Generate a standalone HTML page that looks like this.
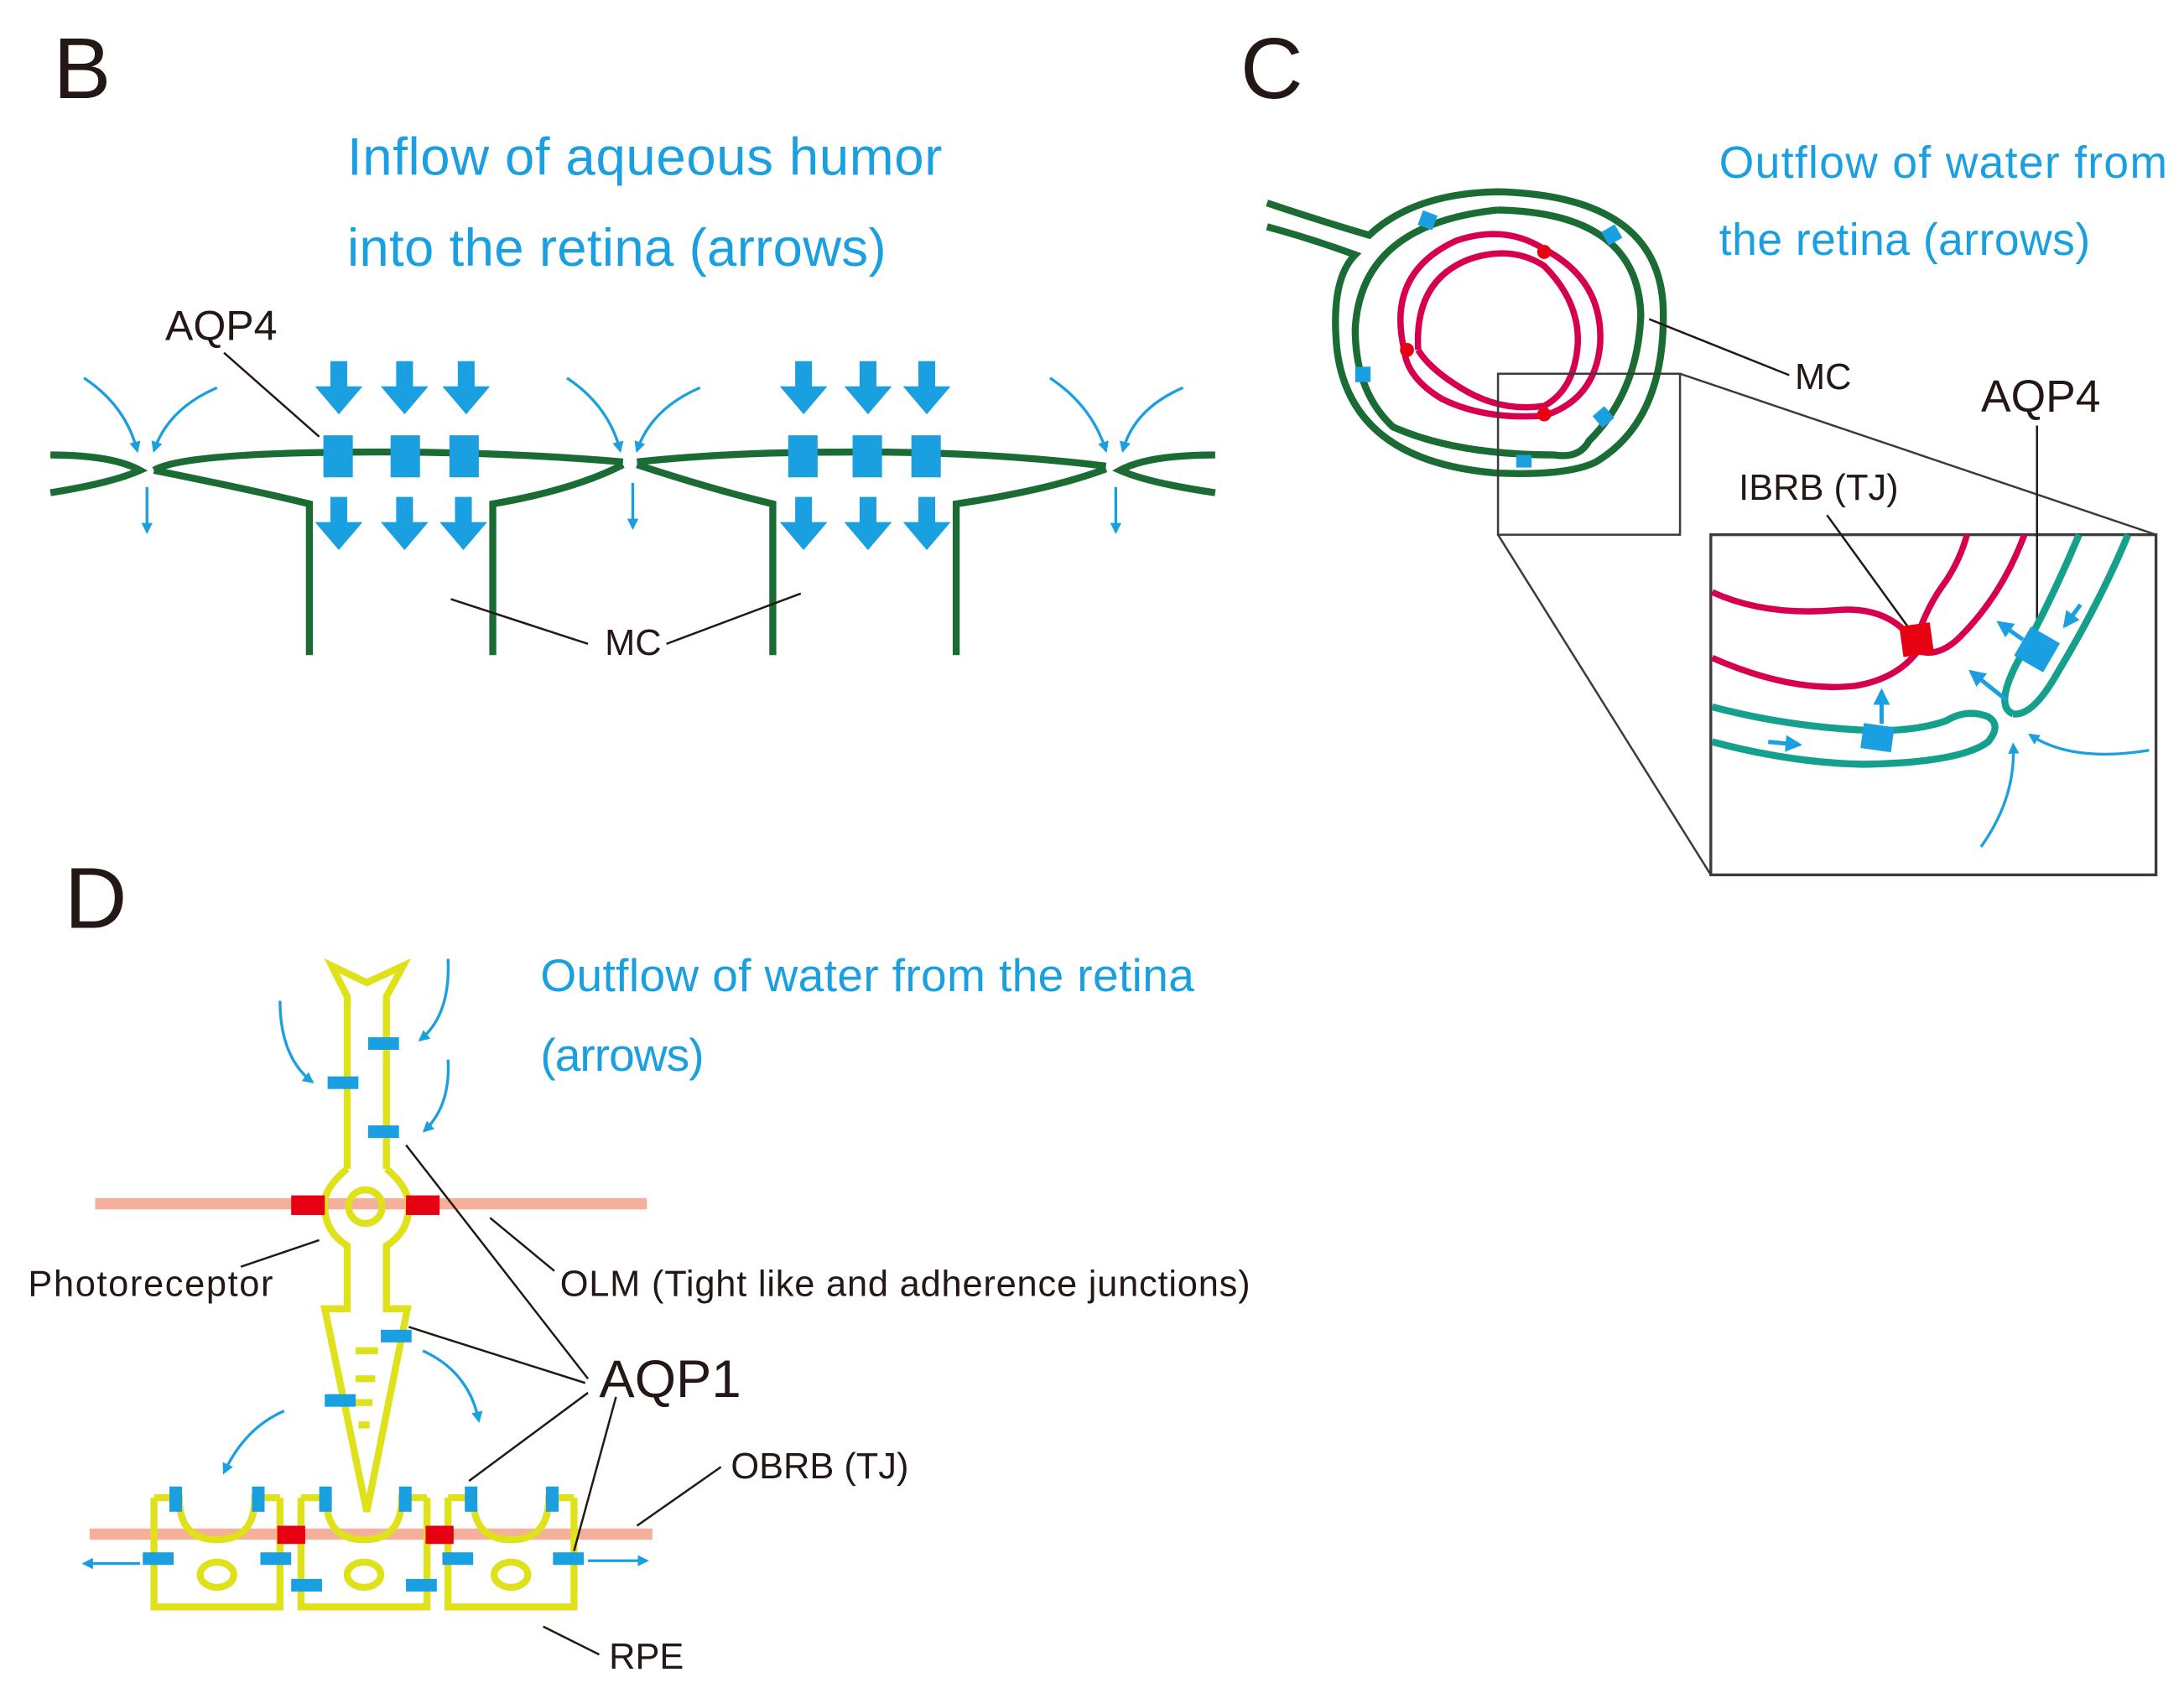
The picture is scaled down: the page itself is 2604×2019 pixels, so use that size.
<!DOCTYPE html>
<html><head><meta charset="utf-8"><style>html,body{margin:0;padding:0;background:#fff}svg{display:block}</style></head>
<body>
<svg width="2604" height="2019" viewBox="0 0 1560 1209.5" preserveAspectRatio="none" xmlns="http://www.w3.org/2000/svg" font-family="Liberation Sans, sans-serif">
<defs>
<marker id="ah" viewBox="0 0 10 10" refX="8" refY="5" markerWidth="4" markerHeight="4" orient="auto"><path d="M0,0 L10,5 L0,10 z" fill="#1a9fe0"/></marker>
<g id="bigdown"><rect x="-6" y="0" width="12" height="20" fill="#1a9fe0"/><path d="M-17,18 L17,18 L0,38 z" fill="#1a9fe0"/></g>
</defs>
<rect width="1560" height="1210" fill="#fff"/>
<!-- Panel B -->
<text x="38" y="70" font-size="62" fill="#231815">B</text>
<text x="248" y="125" font-size="38" fill="#1a9fe0" textLength="425">Inflow of aqueous humor</text>
<text x="248" y="190" font-size="38" fill="#1a9fe0" textLength="385">into the retina (arrows)</text>
<text x="118" y="243" font-size="30" fill="#231815">AQP4</text>
<line x1="160" y1="252" x2="228" y2="312" stroke="#231815" stroke-width="1.5"/>
<g fill="none" stroke="#1b6b35" stroke-width="5">
<path d="M36,325 Q80,325 100,336 Q80,345 36,352"/>
<path d="M110,336 Q130,324 250,323 Q350,322 445,330"/>
<path d="M110,336 Q180,350 221,360 V468"/>
<path d="M352,468 V360 Q410,350 445,332"/>
<path d="M455,330 Q520,323 600,323 Q700,322 790,333"/>
<path d="M455,332 Q510,350 552,360 V468"/>
<path d="M683,468 V360 Q750,350 790,335"/>
<path d="M868,325 Q820,325 800,336 Q820,345 868,352"/>
</g>
<g fill="#1a9fe0">
<rect x="231" y="311" width="21" height="30"/><rect x="279" y="311" width="21" height="30"/><rect x="321" y="311" width="21" height="30"/>
<rect x="563" y="311" width="21" height="30"/><rect x="609" y="311" width="21" height="30"/><rect x="651" y="311" width="21" height="30"/>
</g>
<use href="#bigdown" x="242" y="258"/><use href="#bigdown" x="289" y="258"/><use href="#bigdown" x="333" y="258"/>
<use href="#bigdown" x="574" y="258"/><use href="#bigdown" x="620" y="258"/><use href="#bigdown" x="662" y="258"/>
<use href="#bigdown" x="242" y="355"/><use href="#bigdown" x="289" y="355"/><use href="#bigdown" x="331" y="355"/>
<use href="#bigdown" x="574" y="355"/><use href="#bigdown" x="620" y="355"/><use href="#bigdown" x="662" y="355"/>
<g fill="none" stroke="#1a9fe0" stroke-width="2" marker-end="url(#ah)">
<path d="M60,270 Q90,290 98,322"/><path d="M155,277 Q120,292 110,322"/><path d="M105,348 V380"/>
<path d="M405,270 Q435,290 443,322"/><path d="M500,277 Q465,292 455,322"/><path d="M452,345 V377"/>
<path d="M750,270 Q780,290 790,322"/><path d="M845,277 Q810,292 802,322"/><path d="M797,348 V380"/>
</g>
<text x="432" y="468" font-size="26" fill="#231815">MC</text>
<line x1="322" y1="428" x2="420" y2="460" stroke="#231815" stroke-width="1.5"/>
<line x1="476" y1="460" x2="572" y2="424" stroke="#231815" stroke-width="1.5"/>

<!-- Panel C -->
<text x="886" y="70" font-size="62" fill="#231815">C</text>
<text x="1228" y="127" font-size="32" fill="#1a9fe0" textLength="320">Outflow of water from</text>
<text x="1228" y="182" font-size="32" fill="#1a9fe0" textLength="265">the retina (arrows)</text>
<g fill="none" stroke="#1b6b35" stroke-width="5">
<path d="M905,145 Q950,160 978,168 Q1010,138 1070,137 Q1185,140 1188,220 Q1190,300 1140,330 Q1120,340 1070,338 Q965,330 955,250 Q950,200 968,182 Q935,170 905,162"/>
<path d="M1070,150 Q1170,152 1172,225 Q1170,280 1135,315 Q1128,328 1110,325 Q1040,325 995,305 Q968,280 968,235 Q972,160 1070,150"/>
</g>
<g fill="none" stroke="#d6004f" stroke-width="4.5">
<path d="M1003,250 Q990,195 1040,172 Q1075,160 1103,178 Q1145,200 1143,245 Q1140,285 1103,297 Q1060,300 1030,285 Q1005,270 1003,250"/>
<path d="M1013,250 Q1010,200 1050,185 Q1080,175 1103,190 Q1128,215 1127,245 Q1125,278 1103,290 Q1070,295 1040,275 Q1020,262 1013,250"/>
</g>
<circle cx="1103" cy="180" r="5" fill="#e60012"/><circle cx="1005" cy="250" r="5" fill="#e60012"/><circle cx="1103" cy="296" r="5" fill="#e60012"/>
<g fill="#1a9fe0">
<rect x="1014" y="152" width="11" height="11" transform="rotate(20 1020 158)"/>
<rect x="1146" y="162" width="11" height="11" transform="rotate(-30 1152 168)"/>
<rect x="968" y="262" width="11" height="11"/>
<rect x="1140" y="292" width="11" height="11" transform="rotate(-40 1146 298)"/>
<rect x="1083" y="325" width="11" height="9"/>
</g>
<line x1="1178" y1="228" x2="1278" y2="268" stroke="#231815" stroke-width="1.5"/>
<text x="1282" y="278" font-size="26" fill="#231815">MC</text>
<rect x="1070" y="267" width="130" height="115" fill="none" stroke="#3e3a39" stroke-width="1.5"/>
<line x1="1200" y1="267" x2="1540" y2="382" stroke="#3e3a39" stroke-width="1.5"/>
<line x1="1070" y1="382" x2="1222" y2="625" stroke="#3e3a39" stroke-width="1.5"/>
<rect x="1222" y="382" width="318" height="243" fill="none" stroke="#3e3a39" stroke-width="2"/>
<text x="1415" y="294" font-size="32" fill="#231815">AQP4</text>
<line x1="1455" y1="304" x2="1455" y2="462" stroke="#231815" stroke-width="1.5"/>
<text x="1242" y="357" font-size="26" fill="#231815">IBRB (TJ)</text>
<line x1="1305" y1="368" x2="1368" y2="455" stroke="#231815" stroke-width="1.5"/>
<g fill="none" stroke="#d6004f" stroke-width="4.5">
<path d="M1223,423 Q1260,440 1310,436 Q1350,432 1368,460 Q1375,435 1390,415 Q1400,400 1405,382"/>
<path d="M1223,470 Q1280,495 1325,490 Q1355,485 1370,465 Q1385,470 1400,455 Q1430,425 1446,382"/>
</g>
<rect x="1358" y="446" width="22" height="22" fill="#e60012" transform="rotate(-8 1369 457)"/>
<g fill="none" stroke="#14a08c" stroke-width="5">
<path d="M1223,530 Q1280,545 1330,546 Q1400,545 1420,530 Q1430,518 1420,512 Q1405,506 1390,515 Q1370,522 1340,522 Q1280,520 1223,505"/>
<path d="M1438,510 Q1425,505 1440,475 Q1465,430 1485,382"/>
<path d="M1438,510 Q1452,512 1470,480 Q1500,430 1520,382"/>
</g>
<rect x="1330" y="518" width="22" height="18" fill="#1a9fe0" transform="rotate(8 1341 527)"/>
<rect x="1443" y="452" width="24" height="24" fill="#1a9fe0" transform="rotate(30 1455 464)"/>
<g fill="none" stroke="#1a9fe0" stroke-width="3" marker-end="url(#ah)">
<path d="M1263,530 L1285,532"/><path d="M1344,517 V494"/><path d="M1445,457 L1428,445"/><path d="M1486,432 L1475,447"/><path d="M1433,500 L1408,480"/>
</g>
<g fill="none" stroke="#1a9fe0" stroke-width="2" marker-end="url(#ah)">
<path d="M1415,605 Q1440,570 1438,532"/><path d="M1535,536 Q1480,545 1450,525"/>
</g>
<!-- Panel D -->
<text x="46" y="663" font-size="62" fill="#231815">D</text>
<text x="386" y="708" font-size="33" fill="#1a9fe0" textLength="467">Outflow of water from the retina</text>
<text x="386" y="765" font-size="33" fill="#1a9fe0" textLength="117">(arrows)</text>
<line x1="68" y1="860" x2="462" y2="860" stroke="#f4b09a" stroke-width="8"/>
<line x1="64" y1="1096" x2="466" y2="1096" stroke="#f4b09a" stroke-width="8"/>
<g fill="none" stroke="#dfe11a" stroke-width="5">
<path d="M248,835 V712 L237,690 L262,702 L288,690 L276,712 V835"/>
<path d="M248,835 Q230,850 232,862 Q232,880 248,890 V935 H232 L262,1080 L291,935 H276 V890 Q292,880 292,862 Q292,848 276,835"/>
<circle cx="261" cy="862" r="12"/>
<path d="M254,965 H270 M254,985 H268 M254,1002 H266 M256,1018 H264"/>
<path d="M110,1070 V1148 H200 V1070 M110,1070 H128 Q128,1100 155,1100 Q182,1100 182,1070 H200"/>
<path d="M215,1070 V1148 H305 V1070 M215,1070 H233 Q233,1100 260,1100 Q287,1100 287,1070 H305"/>
<path d="M320,1070 V1148 H410 V1070 M320,1070 H338 Q338,1100 365,1100 Q392,1100 392,1070 H410"/>
<ellipse cx="155" cy="1125" rx="12" ry="9"/><ellipse cx="260" cy="1125" rx="12" ry="9"/><ellipse cx="365" cy="1125" rx="12" ry="9"/>
</g>
<g fill="#e60012">
<rect x="208" y="854" width="24" height="14"/><rect x="290" y="854" width="24" height="14"/>
<rect x="198" y="1090" width="20" height="13"/><rect x="304" y="1090" width="20" height="13"/>
</g>
<g fill="#1a9fe0">
<rect x="263" y="741" width="22" height="9"/><rect x="234" y="769" width="22" height="9"/><rect x="263" y="804" width="22" height="9"/>
<rect x="272" y="950" width="22" height="9"/><rect x="232" y="996" width="22" height="9"/>
<rect x="121" y="1062" width="9" height="18"/><rect x="180" y="1062" width="9" height="18"/>
<rect x="228" y="1062" width="9" height="18"/><rect x="285" y="1062" width="9" height="18"/>
<rect x="332" y="1062" width="9" height="18"/><rect x="390" y="1062" width="9" height="18"/>
<rect x="102" y="1109" width="22" height="9"/><rect x="186" y="1109" width="22" height="9"/>
<rect x="208" y="1128" width="22" height="9"/><rect x="290" y="1128" width="22" height="9"/>
<rect x="316" y="1109" width="22" height="9"/><rect x="395" y="1109" width="22" height="9"/>
</g>
<g fill="none" stroke="#1a9fe0" stroke-width="2" marker-end="url(#ah)">
<path d="M200,715 Q200,755 223,773"/><path d="M320,685 Q322,725 300,743"/><path d="M320,757 Q322,790 303,808"/>
<path d="M302,965 Q335,980 342,1015"/><path d="M203,1008 Q175,1020 160,1052"/>
<path d="M100,1117 H60"/><path d="M420,1115 H462"/>
</g>
<g stroke="#231815" stroke-width="1.5">
<line x1="172" y1="905" x2="228" y2="886"/>
<line x1="350" y1="870" x2="396" y2="908"/>
<line x1="290" y1="818" x2="420" y2="985"/>
<line x1="292" y1="948" x2="418" y2="988"/>
<line x1="335" y1="1058" x2="420" y2="995"/>
<line x1="410" y1="1108" x2="440" y2="998"/>
<line x1="455" y1="1090" x2="515" y2="1048"/>
<line x1="388" y1="1162" x2="428" y2="1182"/>
</g>
<text x="20" y="926" font-size="26" fill="#231815" textLength="175">Photoreceptor</text>
<text x="400" y="926" font-size="26" fill="#231815" textLength="493">OLM (Tight like and adherence junctions)</text>
<text x="428" y="998" font-size="38" fill="#231815">AQP1</text>
<text x="522" y="1056" font-size="26" fill="#231815">OBRB (TJ)</text>
<text x="435" y="1192" font-size="26" fill="#231815">RPE</text>
</svg>
</body></html>
